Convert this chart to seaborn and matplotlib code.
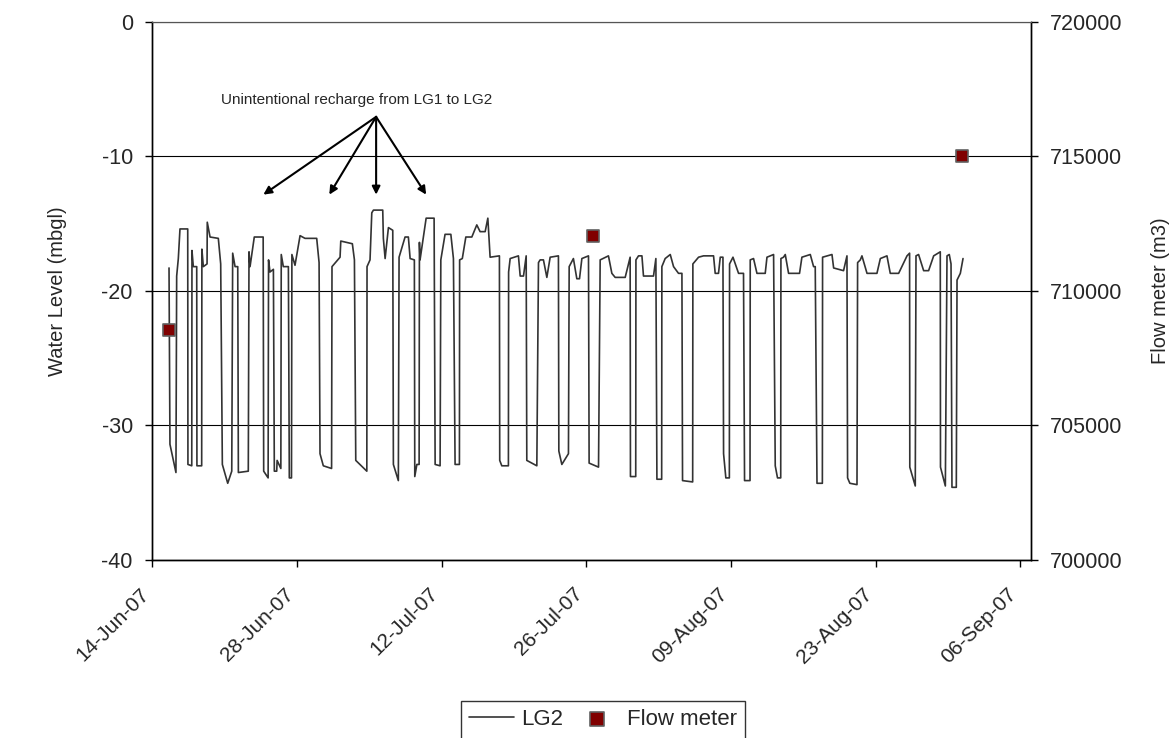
"""
plot.py
LG2 water level record with flow meter readings (Jun-Sep 2007).
Saves out.png.
"""

import pandas as pd
import matplotlib
matplotlib.use("Agg")
import matplotlib.pyplot as plt
import matplotlib.dates as mdates
from matplotlib.transforms import ScaledTranslation
import seaborn as sns

# ----------------------------------------------------------------
# Data
# ----------------------------------------------------------------
START = pd.Timestamp("2007-06-14")

# LG2 water level: days after 14-Jun-07 and level (mbgl, negative = below ground)
lg2_days = [
    1.62, 1.71, 2.29, 2.36, 2.52, 2.68, 3.43, 3.45, 3.82, 3.84,
    3.97, 4.30, 4.32, 4.78, 4.80, 4.94, 5.30, 5.32, 5.59, 6.39,
    6.62, 6.78, 7.30, 7.69, 7.78, 8.01, 8.27, 8.33, 9.29, 9.36,
    9.46, 9.87, 10.73, 10.78, 11.21, 11.25, 11.39, 11.72, 11.81, 12.04,
    12.08, 12.44, 12.48, 12.68, 13.17, 13.26, 13.47, 13.51, 13.81, 14.30,
    14.78, 15.91, 16.14, 16.23, 16.55, 17.35, 17.39, 18.17, 18.24, 19.36,
    19.56, 19.69, 20.76, 20.78, 21.07, 21.24, 21.40, 22.30, 22.36, 22.53,
    22.85, 23.27, 23.33, 23.81, 23.88, 24.46, 24.78, 24.95, 25.36, 25.40,
    25.60, 25.82, 25.85, 25.91, 26.50, 27.27, 27.37, 27.85, 27.92, 28.33,
    28.89, 29.14, 29.30, 29.72, 29.74, 30.00, 30.34, 30.92, 31.40, 31.72,
    32.21, 32.47, 32.69, 33.59, 33.62, 33.82, 34.46, 34.48, 34.63, 35.43,
    35.60, 35.92, 36.18, 36.24, 37.21, 37.37, 37.53, 37.85, 38.18, 38.50,
    39.30, 39.34, 39.63, 40.27, 40.34, 40.75, 41.08, 41.34, 41.57, 42.21,
    42.27, 43.18, 43.34, 44.14, 44.47, 44.79, 45.76, 46.24, 46.27, 46.78,
    46.80, 47.05, 47.38, 47.53, 48.50, 48.73, 48.83, 49.29, 49.31, 49.63,
    50.12, 50.44, 50.92, 51.25, 51.31, 52.29, 52.31, 52.86, 53.34, 54.31,
    54.47, 54.79, 54.96, 55.22, 55.28, 55.50, 55.84, 55.86, 56.19, 56.73,
    57.21, 57.31, 57.84, 57.86, 58.18, 58.51, 59.31, 59.48, 60.12, 60.28,
    60.50, 60.81, 60.83, 61.08, 61.25, 61.57, 62.63, 62.86, 63.67, 63.99,
    64.15, 64.32, 64.84, 64.86, 65.77, 65.93, 66.89, 67.22, 67.28, 67.50,
    68.19, 68.25, 68.51, 68.67, 69.16, 70.12, 70.45, 71.09, 71.41, 72.22,
    73.03, 73.28, 73.30, 73.83, 73.90, 74.15, 74.64, 75.12, 75.61, 76.25,
    76.27, 76.74, 76.90, 77.12, 77.29, 77.38, 77.80, 77.87, 78.19, 78.45,
]
lg2_level = [
    -18.3, -31.4, -33.5, -18.9, -17.6, -15.4, -15.4, -32.9, -33.0, -17.0,
    -18.2, -18.2, -33.0, -33.0, -16.9, -18.2, -18.0, -14.9, -16.0, -16.1,
    -18.0, -32.9, -34.3, -33.4, -17.2, -18.2, -18.2, -33.5, -33.4, -17.1,
    -18.2, -16.0, -16.0, -33.4, -33.9, -17.7, -18.6, -18.4, -33.4, -33.4,
    -32.6, -33.2, -17.3, -18.2, -18.2, -33.9, -33.9, -17.3, -18.1, -15.9,
    -16.1, -16.1, -17.9, -32.1, -33.0, -33.2, -18.2, -17.5, -16.3, -16.5,
    -17.7, -32.6, -33.4, -18.2, -17.7, -14.2, -14.0, -14.0, -16.1, -17.6,
    -15.3, -15.5, -32.9, -34.1, -17.5, -16.0, -16.0, -17.6, -17.7, -33.8,
    -32.9, -32.9, -16.4, -17.7, -14.6, -14.6, -32.9, -33.0, -17.7, -15.8,
    -15.8, -17.6, -32.9, -32.9, -17.7, -17.6, -16.0, -16.0, -15.1, -15.6,
    -15.6, -14.6, -17.5, -17.4, -32.6, -33.0, -33.0, -18.6, -17.6, -17.4,
    -18.9, -18.9, -17.4, -32.6, -33.0, -17.9, -17.7, -17.7, -19.0, -17.5,
    -17.4, -31.9, -32.9, -32.1, -18.2, -17.6, -19.1, -19.1, -17.6, -17.4,
    -32.8, -33.1, -17.7, -17.4, -18.7, -19.0, -19.0, -17.5, -33.8, -33.8,
    -17.7, -17.4, -17.4, -18.9, -18.9, -17.6, -34.0, -34.0, -18.2, -17.6,
    -17.3, -18.2, -18.7, -18.7, -34.1, -34.2, -18.0, -17.5, -17.4, -17.4,
    -18.7, -18.7, -17.5, -17.5, -32.1, -33.9, -33.9, -18.0, -17.5, -18.7,
    -18.7, -34.1, -34.1, -17.7, -17.6, -18.7, -18.7, -17.5, -17.3, -33.0,
    -33.9, -33.9, -17.6, -17.5, -17.3, -18.7, -18.7, -17.5, -17.3, -18.2,
    -18.2, -34.3, -34.3, -17.5, -17.3, -18.3, -18.5, -17.4, -33.9, -34.3,
    -34.4, -17.9, -17.7, -17.4, -18.7, -18.7, -17.6, -17.4, -18.7, -18.7,
    -17.4, -17.2, -33.1, -34.5, -17.4, -17.3, -18.5, -18.5, -17.4, -17.1,
    -33.1, -34.5, -17.4, -17.3, -18.0, -34.6, -34.6, -19.2, -18.7, -17.6,
]

# Flow meter readings (m3)
flow_days = [1.62, 42.6, 78.35]
flow_m3 = [708550, 712050, 715000]

# Annotation: arrow origin and arrow tips (days, level)
note_text = "Unintentional recharge from LG1 to LG2"
note_xy = (19.8, -5.8)
arrow_from = (21.66, -7.07)
arrow_tip_days = [10.75, 17.13, 21.66, 26.5]
arrow_tip_level = -12.85

tick_dates = pd.date_range(START, periods=7, freq="14D")

# ----------------------------------------------------------------
# Plot
# ----------------------------------------------------------------
sns.set_theme(style="white")
plt.rcParams["font.family"] = ["Liberation Sans", "DejaVu Sans"]
plt.rcParams["axes.unicode_minus"] = False

df = pd.DataFrame({
    "date": START + pd.to_timedelta(lg2_days, unit="D"),
    "level": lg2_level,
})
flow = pd.DataFrame({
    "date": START + pd.to_timedelta(flow_days, unit="D"),
    "flow": flow_m3,
})

fig = plt.figure(figsize=(11.75, 7.38), dpi=100)
ax = fig.add_axes([0.1296, 0.2412, 0.7476, 0.7294])
ax2 = ax.twinx()

sns.lineplot(data=df, x="date", y="level", ax=ax, color="#333333", lw=1.2,
             estimator=None, sort=False, label="LG2")
sns.scatterplot(data=flow, x="date", y="flow", ax=ax2, marker="s", s=80,
                color="#800000", edgecolor="#606060", linewidth=1.2,
                label="Flow meter", zorder=5)

ax.set_xlim(START, START + pd.Timedelta(days=85))
ax.set_ylim(-40, 0)
ax2.set_ylim(700000, 720000)
ax.set_yticks(range(-40, 1, 10))
ax2.set_yticks(range(700000, 720001, 5000))
ax.set_xticks(tick_dates)
ax.xaxis.set_major_formatter(mdates.DateFormatter("%d-%b-%y"))

ax.grid(axis="y", color="#000000", lw=0.8)
ax.grid(axis="x", visible=False)
for a in (ax, ax2):
    for side in ("left", "right", "bottom"):
        a.spines[side].set_color("#000000")
        a.spines[side].set_linewidth(1.0)
    a.spines["top"].set_color("#555555")
    a.spines["top"].set_linewidth(0.8)

ax.tick_params(axis="x", bottom=True, direction="out", length=5, width=1,
               color="black", labelsize=15, pad=17.3)
ax.tick_params(axis="y", left=True, direction="out", length=5, width=1,
               color="black", labelsize=15.5, pad=9)
ax2.tick_params(axis="y", right=True, direction="out", length=5, width=1,
                color="black", labelsize=15.5, pad=9)

# rotated date labels, right end just below-left of the tick
shift = ScaledTranslation(-6.5 / 100, 0, fig.dpi_scale_trans)
for lbl in ax.get_xticklabels():
    lbl.set_rotation(45)
    lbl.set_ha("right")
    lbl.set_va("center")
    lbl.set_rotation_mode("anchor")
    lbl.set_transform(lbl.get_transform() + shift)

ax.set_xlabel("")
ax.set_ylabel("Water Level (mbgl)", fontsize=14.5)
ax2.set_ylabel("Flow meter (m3)", fontsize=14.5)
ax.yaxis.set_label_coords(-0.097, 0.5)
ax2.yaxis.set_label_coords(1.137, 0.5)

# annotation with four arrows
to_num = lambda d: mdates.date2num(START + pd.Timedelta(days=d))
ax.text(to_num(note_xy[0]), note_xy[1], note_text, fontsize=11,
        ha="center", va="center")
for d in arrow_tip_days:
    ax.annotate("", xy=(to_num(d), arrow_tip_level),
                xytext=(to_num(arrow_from[0]), arrow_from[1]),
                arrowprops=dict(arrowstyle="-|>", color="black", lw=1.5,
                                mutation_scale=12, shrinkA=0, shrinkB=0))

# combined legend at the bottom
h1, l1 = ax.get_legend_handles_labels()
h2, l2 = ax2.get_legend_handles_labels()
ax.get_legend().remove()
ax2.get_legend().remove()
leg = fig.legend(h1 + h2, l1 + l2, loc="upper center", ncol=2,
                 bbox_to_anchor=(603 / 1175, 1 - 700.7 / 738),
                 fontsize=16, frameon=True, fancybox=False,
                 edgecolor="black", handlelength=2.0, handletextpad=0.35,
                 columnspacing=0.5, borderpad=0.38, borderaxespad=0,
                 markerscale=1.2)
leg.get_frame().set_linewidth(1.0)

fig.savefig("out.png", dpi=100)
